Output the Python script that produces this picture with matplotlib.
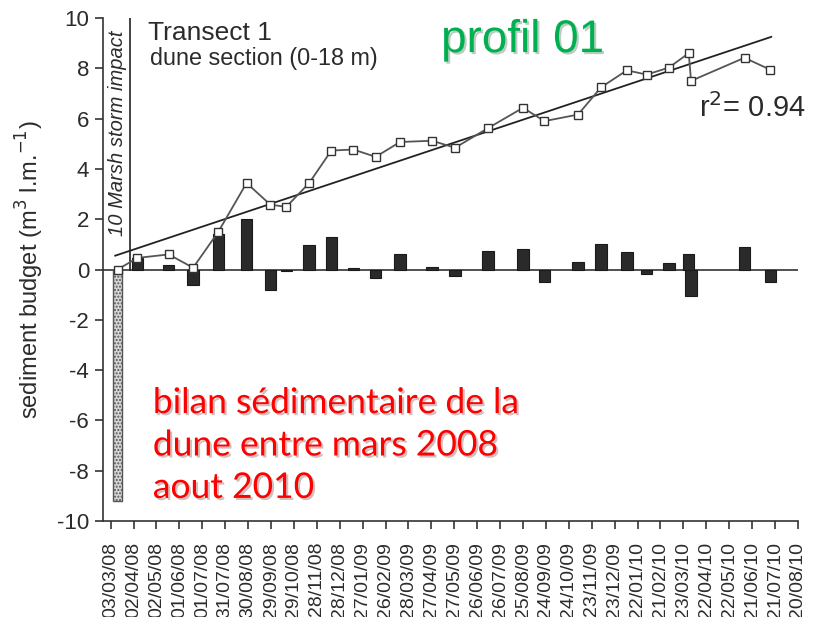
import numpy as np
import pandas as pd
import matplotlib
matplotlib.use("Agg")
import matplotlib.pyplot as plt
import matplotlib.dates as mdates
import matplotlib.patheffects as pe

plt.rcParams['font.family'] = ['Liberation Sans', 'DejaVu Sans']

# survey dates and cumulative dune sediment budget (m3 per linear metre)
survey_dates = ['12/03/08', '07/04/08', '18/05/08', '19/06/08', '22/07/08', '28/08/08',
                '28/09/08', '19/10/08', '18/11/08', '17/12/08', '15/01/09', '13/02/09',
                '17/03/09', '28/04/09', '28/05/09', '10/07/09', '25/08/09', '22/09/09',
                '05/11/09', '05/12/09', '08/01/10', '03/02/10', '04/03/10', '30/03/10',
                '02/04/10', '11/06/10', '15/07/10']
cumulative = [0.0, 0.46, 0.60, 0.07, 1.50, 3.44, 2.58, 2.49, 3.44, 4.73, 4.77, 4.48,
              5.07, 5.12, 4.84, 5.62, 6.43, 5.90, 6.16, 7.24, 7.92, 7.75, 8.03, 8.60,
              7.50, 8.42, 7.94]
# budget between successive surveys
change = [-9.2, 0.47, 0.16, -0.62, 1.42, 1.99, -0.83, -0.07, 0.97, 1.31, 0.07, -0.33,
          0.60, 0.08, -0.26, 0.73, 0.81, -0.49, 0.31, 1.03, 0.68, -0.17, 0.24, 0.60,
          -1.06, 0.89, -0.49]

# linear trend of the cumulative budget
trend_dates = ['09/03/08', '16/07/10']
trend_values = [0.55, 9.25]

storm_date = '28/03/08'

tick_labels = ['03/03/08', '02/04/08', '02/05/08', '01/06/08', '01/07/08', '31/07/08',
               '30/08/08', '29/09/08', '29/10/08', '28/11/08', '28/12/08', '27/01/09',
               '26/02/09', '28/03/09', '27/04/09', '27/05/09', '26/06/09', '26/07/09',
               '25/08/09', '24/09/09', '24/10/09', '23/11/09', '23/12/09', '22/01/10',
               '21/02/10', '23/03/10', '22/04/10', '22/05/10', '21/06/10', '21/07/10',
               '20/08/10']


def to_num(labels):
    return mdates.date2num(pd.to_datetime(labels, format='%d/%m/%y'))


x = to_num(survey_dates)
ticks = to_num(tick_labels)

fig = plt.figure(figsize=(8.13, 6.17), dpi=100)
ax = fig.add_axes([0.1267, 0.1556, 0.8548, 0.8152])

text_col = '#2b2b2b'

# bars: first one is the storm loss, hatched
ax.bar(x[:1], change[:1], width=13, color='#d6d6d6', edgecolor='#555555',
       hatch='.....', linewidth=1, zorder=2)
ax.bar(x[1:], change[1:], width=15, color='#2a2a2a', edgecolor='#1a1a1a',
       linewidth=0.8, zorder=2)

ax.axhline(0, color='#333333', lw=1.2, zorder=1)

ax.plot(to_num(trend_dates), trend_values, color='#222222', lw=1.3, zorder=3)
ax.plot(x, cumulative, color='#555555', lw=1.3, marker='s', ms=5.5,
        mfc='white', mec='#333333', mew=1, zorder=4)

# storm marker
sx = to_num([storm_date])[0]
ax.plot([sx, sx], [0, 10], color='#222222', lw=1.2, zorder=3)
ax.text(sx - 3, 5.4, '10 Marsh storm impact', rotation=90, style='italic',
        fontsize=14.5, color=text_col, ha='right', va='center')

ax.set_xlim(to_num(['22/02/08'])[0], ticks[-1])
ax.set_ylim(-10, 10)
ax.set_xticks(ticks)
ax.set_xticklabels(tick_labels, rotation=90, fontsize=14, color=text_col)
ax.set_yticks(np.arange(-10, 11, 2))
ax.set_yticklabels([str(v) for v in range(-10, 11, 2)], fontsize=16, color=text_col)
ax.tick_params(direction='out', length=6, width=1.2, colors='#333333')
ax.tick_params(axis='x', pad=9, labelcolor=text_col)
ax.tick_params(axis='y', pad=4, labelcolor=text_col)

for side in ['top', 'right']:
    ax.spines[side].set_visible(False)
for side in ['left', 'bottom']:
    ax.spines[side].set_color('#333333')
    ax.spines[side].set_linewidth(1.2)

ax.set_ylabel('sediment budget (m$^3$ l.m.$^{-1}$)', fontsize=17, color=text_col,
              labelpad=8)

ax.text(0.065, 0.956, 'Transect 1', transform=ax.transAxes, fontsize=19,
        color=text_col, va='baseline')
ax.text(0.068, 0.906, 'dune section (0-18 m)', transform=ax.transAxes, fontsize=16.8,
        color=text_col, va='baseline')
ax.text(0.857, 0.803, 'r$^2$= 0.94', transform=ax.transAxes, fontsize=21,
        color=text_col, va='baseline')

fig.text(0.5425, 0.935, 'profil 01', fontsize=33, color='#00b050', va='center',
         path_effects=[pe.withSimplePatchShadow(offset=(1.5, -1.5), alpha=0.25)])
fig.text(0.188, 0.193, 'bilan sédimentaire de la\ndune entre mars 2008\naout 2010',
         fontsize=25.5, color='#ff0000', family=['Lato', 'DejaVu Sans'],
         linespacing=1.4, va='baseline',
         path_effects=[pe.withSimplePatchShadow(offset=(1.5, -1.5), alpha=0.25)])

fig.savefig('out.png', dpi=100)
